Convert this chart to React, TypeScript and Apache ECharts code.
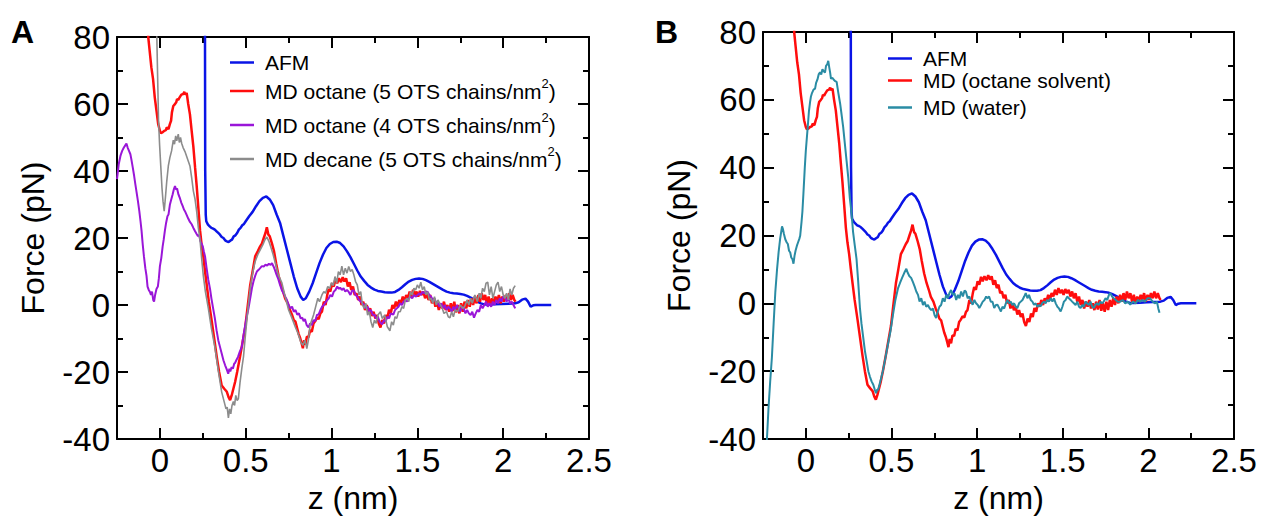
import React, { useEffect, useRef } from "react";
import * as echarts from "echarts";

// ---------- data (z in nm, force in pN) ----------
const afm: number[][] = [
  [0.262, 100], [0.264, 40], [0.267, 27], [0.27, 25], [0.28, 24], [0.29, 23.5], [0.3, 23], [0.31, 22.8], [0.32, 22.5],
  [0.33, 22], [0.34, 21.5], [0.35, 21], [0.36, 20.3], [0.37, 20], [0.38, 19.3], [0.39, 19], [0.4, 18.8], [0.41, 19.2],
  [0.42, 19.5], [0.43, 20.5], [0.44, 20.8], [0.45, 21.5], [0.46, 22.5], [0.47, 23], [0.48, 23.8], [0.49, 24.2], [0.5, 25],
  [0.52, 26.5], [0.54, 27.8], [0.56, 29.5], [0.58, 31], [0.6, 32], [0.62, 32.4], [0.64, 31.5], [0.66, 29.8], [0.68, 27],
  [0.7, 24.5], [0.72, 20.5], [0.74, 16.5], [0.76, 12.5], [0.78, 8.5], [0.8, 5], [0.82, 2.5], [0.835, 1.5], [0.85, 2],
  [0.87, 4], [0.89, 6.5], [0.91, 9.5], [0.93, 12.5], [0.95, 15], [0.97, 17], [0.99, 18.2], [1.01, 18.8], [1.03, 18.9],
  [1.05, 18.5], [1.07, 17.5], [1.09, 16], [1.11, 14.3], [1.13, 12.3], [1.15, 10.3], [1.17, 8.5], [1.19, 7.2], [1.21, 6],
  [1.23, 5.2], [1.25, 4.6], [1.27, 4.2], [1.29, 4], [1.31, 3.8], [1.33, 3.7], [1.35, 3.7], [1.37, 3.9], [1.39, 4.5],
  [1.41, 5.3], [1.43, 6.2], [1.45, 7], [1.47, 7.5], [1.49, 7.8], [1.51, 7.9], [1.53, 7.8], [1.55, 7.4], [1.57, 6.9],
  [1.59, 6.3], [1.61, 5.7], [1.63, 5.1], [1.65, 4.5], [1.67, 4], [1.69, 3.7], [1.71, 3.5], [1.73, 3.4], [1.75, 3.3],
  [1.77, 3.1], [1.79, 2.7], [1.81, 2.2], [1.83, 1.6], [1.85, 1], [1.87, 0.5], [1.89, 0.2], [1.91, 0.1], [1.95, 0.2],
  [1.99, 0.3], [2.03, 0.4], [2.07, 0.5], [2.09, 0.8], [2.11, 1.6], [2.13, 1.9], [2.145, 1], [2.16, -0.5], [2.175, -0.1],
  [2.19, 0], [2.28, 0],
];

const mdOctane5: number[][] = [
  [-0.075, 95], [-0.068, 80], [-0.06, 76], [-0.05, 71], [-0.04, 67.5], [-0.03, 62], [-0.02, 58], [-0.01, 54], [0.0, 52],
  [0.006, 51.3], [0.015, 51.5], [0.025, 52], [0.035, 52.2], [0.04, 53], [0.05, 52.5], [0.058, 54], [0.065, 55], [0.07, 57.5],
  [0.078, 59.4], [0.085, 59.8], [0.095, 60.5], [0.1, 61.5], [0.107, 61.2], [0.115, 62], [0.125, 62.8], [0.136, 63],
  [0.142, 63.6], [0.148, 62.8], [0.156, 63.3], [0.165, 60], [0.175, 56.9], [0.185, 52], [0.195, 47.2], [0.205, 41],
  [0.214, 35.7], [0.224, 29], [0.234, 22.2], [0.243, 18], [0.253, 14.5], [0.263, 10], [0.273, 5.9], [0.285, 1],
  [0.302, -4.8], [0.315, -9.5], [0.331, -15.4], [0.345, -20], [0.36, -24], [0.375, -25], [0.39, -25.9], [0.4, -27.5],
  [0.409, -28.4], [0.418, -27], [0.428, -25], [0.438, -23], [0.45, -20], [0.467, -15.4], [0.482, -11], [0.497, -6.7],
  [0.51, -1], [0.526, 5.9], [0.54, 10], [0.555, 14.5], [0.57, 16], [0.584, 17.5], [0.594, 18.3], [0.605, 20], [0.615, 21.5],
  [0.623, 23.2], [0.632, 21], [0.64, 20.5], [0.653, 18.3], [0.665, 16], [0.677, 12.5], [0.691, 8.8], [0.705, 6],
  [0.718, 4], [0.73, 1.9], [0.745, 0.5], [0.758, -1.5], [0.769, -2.8], [0.78, -4.5], [0.79, -5], [0.8, -7], [0.808, -8.6],
  [0.818, -10], [0.826, -11.5], [0.833, -12.9], [0.84, -10.5], [0.848, -11.8], [0.856, -9.5], [0.866, -9.6], [0.875, -7.5],
  [0.885, -8], [0.895, -5.5], [0.905, -4.8], [0.915, -3.8], [0.925, -4.2], [0.935, -2.5], [0.944, -2], [0.955, 1],
  [0.965, 0], [0.975, 3], [0.983, 4.8], [0.993, 4], [1.003, 6.5], [1.013, 5.5], [1.023, 7.8], [1.033, 6.5], [1.043, 8],
  [1.055, 6.8], [1.065, 8.3], [1.075, 7], [1.085, 8], [1.095, 5.5], [1.105, 6.8], [1.115, 4.5], [1.125, 5.5], [1.135, 3],
  [1.145, 3.5], [1.155, 1.5], [1.165, 2.5], [1.175, 0], [1.185, 1], [1.195, -1.5], [1.205, 0], [1.215, -2], [1.225, -1],
  [1.235, -3.3], [1.245, -2], [1.255, -4], [1.265, -3], [1.275, -5.5], [1.285, -6.7], [1.295, -4.5], [1.305, -5.5],
  [1.315, -3], [1.325, -4], [1.335, -1.4], [1.345, -2.5], [1.355, 0], [1.365, -1], [1.375, 1], [1.385, -0.5], [1.395, 1.5],
  [1.405, 0.5], [1.415, 2.5], [1.425, 1], [1.435, 3], [1.445, 2], [1.455, 4], [1.465, 2.5], [1.475, 4.5], [1.485, 3],
  [1.495, 4], [1.505, 2.5], [1.515, 4.2], [1.525, 3], [1.535, 4], [1.545, 2], [1.555, 3.5], [1.565, 1.5], [1.575, 3],
  [1.585, 0.5], [1.595, 2], [1.605, -0.5], [1.615, 1], [1.625, -1.5], [1.635, 0.5], [1.645, -1], [1.655, 1], [1.665, -1.5],
  [1.675, 0], [1.685, -2], [1.695, 0.5], [1.705, -1.8], [1.715, 1], [1.725, -2.2], [1.735, 0], [1.745, -2.5], [1.755, 0.5],
  [1.765, -2], [1.775, 1], [1.785, -1], [1.795, 1.5], [1.805, -0.5], [1.815, 2], [1.825, 0], [1.835, 2.5], [1.845, 0.5],
  [1.855, 3], [1.865, 1], [1.875, 3.5], [1.885, 1.5], [1.895, 3], [1.905, 0.5], [1.915, 2.5], [1.925, 0], [1.935, 2],
  [1.945, 0.5], [1.955, 2.5], [1.965, 1], [1.975, 3], [1.985, 0.5], [1.995, 2.5], [2.005, 1], [2.015, 3], [2.025, 1.5],
  [2.035, 3.5], [2.045, 1.5], [2.055, 3], [2.065, 1.5], [2.072, 1],
];

const mdOctane4: number[][] = [
  [-0.25, 37.6], [-0.24, 42], [-0.23, 44.5], [-0.22, 46], [-0.21, 47], [-0.2, 47.8], [-0.195, 48.2], [-0.188, 47],
  [-0.18, 46], [-0.172, 45], [-0.166, 43.4], [-0.158, 41], [-0.15, 38.5], [-0.143, 36], [-0.136, 33.7], [-0.128, 31],
  [-0.12, 28], [-0.113, 25], [-0.107, 22.2], [-0.1, 18], [-0.093, 14.5], [-0.085, 11], [-0.078, 8.7], [-0.072, 5.5],
  [-0.065, 4.5], [-0.058, 3.9], [-0.052, 3], [-0.046, 4], [-0.039, 1.5], [-0.034, 1], [-0.028, 3], [-0.02, 4.8],
  [-0.012, 5.5], [-0.006, 8], [0.0, 11.6], [0.008, 14], [0.016, 17.5], [0.022, 19.5], [0.029, 22.2], [0.036, 24.5],
  [0.044, 26.5], [0.05, 27], [0.058, 29.9], [0.066, 31.5], [0.074, 33], [0.081, 34.5], [0.088, 35.5], [0.094, 34.5],
  [0.1, 34.8], [0.108, 33], [0.117, 31.8], [0.125, 30.5], [0.133, 29.5], [0.14, 28.5], [0.146, 28], [0.155, 27],
  [0.165, 25.8], [0.175, 24.8], [0.185, 24.1], [0.195, 23], [0.205, 22], [0.214, 21.2], [0.222, 20.5], [0.228, 21],
  [0.236, 19], [0.243, 18.3], [0.25, 17.5], [0.256, 16], [0.263, 14.5], [0.272, 11], [0.282, 7.5], [0.292, 4.8], [0.3, 2],
  [0.31, -1], [0.32, -3.9], [0.33, -7.5], [0.34, -10.5], [0.35, -12.5], [0.36, -14.5], [0.37, -16.5], [0.38, -18],
  [0.39, -19.3], [0.398, -20.5], [0.405, -19], [0.41, -19.8], [0.418, -18.5], [0.425, -19], [0.433, -17.5], [0.438, -17.3],
  [0.445, -16.5], [0.455, -15.5], [0.465, -14], [0.477, -12.5], [0.487, -9], [0.497, -6], [0.506, -3.5], [0.516, -1],
  [0.526, 2], [0.536, 5], [0.545, 7], [0.555, 8.7], [0.565, 10], [0.575, 10.5], [0.584, 11], [0.594, 11.6], [0.605, 11.5],
  [0.615, 12], [0.625, 11.8], [0.635, 12.3], [0.645, 12], [0.653, 12.5], [0.662, 11.5], [0.67, 10.5], [0.68, 9],
  [0.69, 7.7], [0.7, 6], [0.71, 4.5], [0.72, 3.5], [0.73, 2.5], [0.74, 1.5], [0.75, 0], [0.76, -1], [0.77, -0.5],
  [0.78, -2], [0.79, -1.5], [0.8, -2.9], [0.81, -2.5], [0.82, -4], [0.83, -3.8], [0.837, -4.8], [0.845, -4.2], [0.855, -6],
  [0.866, -6.7], [0.875, -5.5], [0.885, -6], [0.895, -4.5], [0.905, -4.8], [0.915, -3], [0.925, -2.8], [0.935, -1.5],
  [0.945, -0.5], [0.955, 0], [0.965, 0.8], [0.975, 1.5], [0.983, 1.9], [0.993, 3], [1.003, 2.5], [1.013, 4], [1.023, 4.5],
  [1.033, 5.5], [1.043, 4.8], [1.05, 5.2], [1.06, 4.5], [1.07, 5], [1.08, 4], [1.09, 4.5], [1.1, 3.9], [1.11, 3],
  [1.12, 4.3], [1.13, 4.3], [1.14, 3], [1.15, 2.5], [1.16, 1.5], [1.17, 1], [1.18, 0.5], [1.19, 0], [1.2, -1], [1.21, -0.5],
  [1.22, -2], [1.23, -1.5], [1.24, -3], [1.25, -2.9], [1.26, -4], [1.27, -3.5], [1.28, -5], [1.295, -5.8], [1.305, -4.5],
  [1.315, -5], [1.325, -3.5], [1.335, -4], [1.345, -2.5], [1.36, -2.9], [1.37, -1.5], [1.38, -1], [1.39, -0.5], [1.4, 0.5],
  [1.41, 0], [1.42, 1], [1.43, 1.5], [1.44, 1], [1.45, 2], [1.46, 2.5], [1.47, 2], [1.48, 3], [1.49, 2.5], [1.5, 2.9],
  [1.51, 3.5], [1.52, 3], [1.53, 4], [1.54, 3.5], [1.55, 4], [1.56, 3.9], [1.57, 3], [1.58, 2.5], [1.59, 1.5], [1.6, 2],
  [1.61, 0.5], [1.62, 0.5], [1.63, -0.5], [1.64, 0.5], [1.65, -1], [1.66, 0], [1.67, -1.5], [1.68, -0.5], [1.69, -1],
  [1.7, -2], [1.71, -0.5], [1.72, -1.5], [1.73, 0], [1.74, -1], [1.75, -2], [1.76, -0.5], [1.77, -1], [1.78, -2.5],
  [1.79, -1.5], [1.8, -2.5], [1.81, -3], [1.82, -2], [1.83, -3.8], [1.84, -2.5], [1.85, -1.5], [1.86, -2], [1.87, 0],
  [1.88, -1], [1.89, 0], [1.9, 1], [1.91, -0.5], [1.92, 0.5], [1.93, -0.5], [1.94, 1], [1.95, 0], [1.96, 1.5], [1.97, 0.5],
  [1.98, 2], [1.99, 1], [2.0, 2.5], [2.01, 2.4], [2.02, 1], [2.03, 2], [2.04, 0.5], [2.05, 1], [2.06, 0], [2.07, -1],
];

const mdDecane: number[][] = [
  [-0.022, 95], [-0.018, 80], [-0.012, 65], [-0.008, 55], [-0.002, 48], [0.005, 41.5], [0.012, 35], [0.018, 31],
  [0.025, 28], [0.032, 32], [0.04, 37], [0.049, 41.5], [0.058, 44], [0.068, 46], [0.078, 49.2], [0.085, 48], [0.092, 50.5],
  [0.098, 49], [0.107, 51], [0.113, 48.5], [0.12, 50], [0.127, 48.2], [0.135, 47], [0.146, 45.8], [0.155, 44.5],
  [0.165, 43], [0.175, 41.5], [0.185, 38], [0.195, 34], [0.204, 31.8], [0.214, 28], [0.224, 23], [0.234, 19.3],
  [0.243, 14], [0.253, 8.7], [0.265, 4], [0.282, -0.9], [0.3, -7], [0.32, -12.5], [0.34, -19.5], [0.36, -26],
  [0.375, -29], [0.385, -31], [0.392, -30.5], [0.399, -33.7], [0.406, -31], [0.413, -32.5], [0.42, -30], [0.428, -28.8],
  [0.435, -30], [0.442, -27], [0.45, -28.5], [0.457, -28], [0.467, -23], [0.477, -19], [0.487, -15.4], [0.5, -8],
  [0.515, 0], [0.526, 5], [0.54, 9.5], [0.555, 13], [0.57, 15], [0.585, 16.5], [0.6, 18], [0.612, 19.5], [0.623, 20.3],
  [0.635, 19], [0.645, 17.5], [0.66, 15], [0.675, 12], [0.69, 9], [0.71, 6.7], [0.73, 2.5], [0.75, -1.5], [0.77, -4],
  [0.79, -6.7], [0.805, -8.5], [0.82, -11], [0.833, -12], [0.845, -10.5], [0.856, -13], [0.865, -10.5], [0.875, -6],
  [0.885, -4.5], [0.895, -3], [0.905, -1], [0.92, 2], [0.93, 1], [0.944, 3], [0.955, 4], [0.965, 3.5], [0.978, 5.5],
  [0.99, 5], [1.0, 6.7], [1.01, 5.8], [1.02, 8.5], [1.03, 6.5], [1.04, 10], [1.05, 9], [1.06, 11.6], [1.07, 9], [1.08, 11],
  [1.09, 9.5], [1.1, 11.5], [1.11, 10], [1.12, 10.6], [1.13, 9], [1.14, 7], [1.15, 6], [1.16, 3], [1.17, 4], [1.18, 0],
  [1.19, -1], [1.2, 0.5], [1.21, -3], [1.22, -2], [1.23, -5], [1.24, -6.7], [1.25, -4.5], [1.26, -5.5], [1.27, -3],
  [1.285, -2], [1.295, -4], [1.31, -3], [1.325, -6.5], [1.34, -7.7], [1.35, -5], [1.36, -6], [1.37, -3.5], [1.38, -4],
  [1.39, -2], [1.4, -2], [1.41, -0.5], [1.42, -1], [1.43, 1.5], [1.44, 2], [1.45, 1], [1.46, 3.9], [1.47, 3], [1.48, 5],
  [1.49, 4.5], [1.5, 6], [1.51, 5], [1.52, 6.8], [1.53, 4.5], [1.54, 5.5], [1.55, 3], [1.56, 4], [1.57, 1.5], [1.58, 2],
  [1.59, 0.5], [1.6, 2.5], [1.61, 0], [1.62, 1.5], [1.635, 0], [1.645, -1], [1.655, -2.5], [1.67, -2], [1.68, -3.5],
  [1.69, -3.8], [1.7, -2], [1.71, -3.5], [1.72, -1.5], [1.735, -2], [1.75, 0], [1.765, -1], [1.775, -0.5], [1.79, 1.5],
  [1.8, 0], [1.81, 2], [1.82, 0.5], [1.835, 3], [1.85, 1], [1.86, 3.5], [1.87, 2], [1.88, 5], [1.89, 4], [1.9, 6.5],
  [1.91, 6.8], [1.92, 3], [1.93, 5.5], [1.94, 2], [1.95, 4], [1.96, 6], [1.97, 6.8], [1.98, 4], [1.99, 5.5], [2.0, 3],
  [2.01, 2], [2.02, 3.5], [2.03, 1.5], [2.04, 4.8], [2.05, 3], [2.06, 5], [2.07, 5.8],
];

const mdWater: number[][] = [
  [-0.232, -45], [-0.227, -40], [-0.218, -31], [-0.208, -23], [-0.198, -15.9], [-0.188, -6], [-0.178, 3.4], [-0.168, 10],
  [-0.159, 15], [-0.15, 19], [-0.144, 21], [-0.139, 22.7], [-0.134, 22], [-0.128, 20.5], [-0.12, 18.9], [-0.112, 18],
  [-0.105, 17.5], [-0.098, 15.5], [-0.091, 15], [-0.085, 13.5], [-0.078, 13], [-0.072, 11.7], [-0.066, 14], [-0.06, 15.5],
  [-0.052, 17], [-0.045, 18], [-0.038, 19], [-0.033, 19.9], [-0.025, 24], [-0.02, 27], [-0.014, 32.4], [-0.006, 40],
  [0.0, 45], [0.006, 48.8], [0.012, 52.5], [0.018, 56.5], [0.025, 59.4], [0.03, 61], [0.036, 62], [0.045, 63], [0.054, 63.3],
  [0.06, 65], [0.068, 66], [0.075, 67.5], [0.083, 68.1], [0.09, 67.5], [0.097, 69], [0.104, 68.5], [0.112, 68], [0.118, 70],
  [0.125, 70.5], [0.131, 71.5], [0.137, 69.5], [0.142, 68], [0.147, 66.2], [0.155, 66.5], [0.162, 66], [0.172, 65.5],
  [0.18, 65.3], [0.19, 62], [0.2, 59], [0.209, 55.6], [0.218, 52], [0.228, 47], [0.238, 42], [0.248, 37], [0.257, 31],
  [0.267, 26.6], [0.276, 21], [0.286, 17], [0.296, 13.1], [0.305, 7], [0.316, -1.4], [0.325, -6], [0.335, -10],
  [0.345, -14], [0.355, -17], [0.365, -20], [0.374, -21.6], [0.384, -23], [0.394, -24], [0.403, -25.5], [0.41, -26.5],
  [0.416, -25.5], [0.422, -25.5], [0.43, -24], [0.44, -22], [0.451, -19.7], [0.465, -16], [0.48, -12], [0.495, -8],
  [0.509, -3.3], [0.523, 1], [0.538, 4.4], [0.55, 6], [0.562, 7.5], [0.575, 9], [0.587, 10.2], [0.595, 9], [0.605, 8],
  [0.615, 7.5], [0.625, 6.3], [0.635, 5], [0.645, 3.5], [0.655, 2.5], [0.664, 0.5], [0.674, 1.5], [0.684, -0.5],
  [0.693, 0.5], [0.703, -1], [0.713, -0.5], [0.722, -1.4], [0.732, -2], [0.742, -1.5], [0.752, -3.5], [0.761, -4.3],
  [0.77, -2.5], [0.78, -1], [0.79, -0.5], [0.8, 1.5], [0.81, 0.5], [0.82, 2.5], [0.83, 1.5], [0.838, 3], [0.848, 3.9],
  [0.858, 2.5], [0.868, 3], [0.878, 1], [0.888, 2.5], [0.897, 1.5], [0.907, 3.5], [0.917, 2], [0.927, 3.8], [0.935, 3.4],
  [0.945, 1.5], [0.955, 2], [0.965, 0.5], [0.974, -0.4], [0.984, 1], [0.994, 0], [1.004, -0.5], [1.013, -1.4],
  [1.023, -0.5], [1.033, 0.5], [1.043, 1], [1.053, 2], [1.06, 1.5], [1.07, 2], [1.08, 0.5], [1.09, 0.5], [1.1, -1.4],
  [1.11, -0.5], [1.119, -0.4], [1.13, -1.5], [1.139, -2.4], [1.148, -1], [1.158, -1.5], [1.168, 0], [1.177, 1], [1.187, 0],
  [1.197, 0.5], [1.206, -0.5], [1.216, 0], [1.226, -1], [1.235, -1.4], [1.245, 0], [1.255, 0.5], [1.265, 1], [1.275, 2],
  [1.284, 3], [1.294, 1.5], [1.303, 2.5], [1.313, 1], [1.323, 0.5], [1.332, -0.4], [1.342, 0], [1.352, -1], [1.362, -0.5],
  [1.371, -0.9], [1.38, 0], [1.39, 0.5], [1.4, 0], [1.41, 1], [1.42, 0.5], [1.43, 1.5], [1.44, 0.5], [1.449, 1.5],
  [1.459, 0], [1.469, -1], [1.478, -1.5], [1.488, -2.4], [1.498, -1], [1.507, 0.5], [1.517, 1], [1.526, 2], [1.536, 1.5],
  [1.546, 1], [1.555, 0.5], [1.565, 0], [1.575, -0.5], [1.585, 0.5], [1.595, -1], [1.604, -1.4], [1.614, -0.5],
  [1.623, -1], [1.633, 0.5], [1.642, 0], [1.652, -0.5], [1.662, 0.5], [1.672, -1], [1.681, -1.4], [1.69, -0.5], [1.7, 0],
  [1.71, -0.5], [1.72, 0.5], [1.73, 0], [1.739, 0.5], [1.75, 1.5], [1.76, 1], [1.77, 2.5], [1.778, 3], [1.788, 2],
  [1.798, 1.5], [1.81, 1], [1.82, 0.5], [1.836, 0.5], [1.85, 1], [1.865, 0], [1.88, 0.5], [1.894, -0.4], [1.91, 0.5],
  [1.925, 0], [1.94, 1], [1.952, 0.5], [1.965, 1], [1.98, 0.5], [1.995, 1.5], [2.01, 1.5], [2.025, 0.5], [2.04, 0],
  [2.05, 0.5], [2.058, -1.5], [2.065, -2.8],
];

// ---------- axes / labels ----------
const xMajor = [0, 0.5, 1, 1.5, 2];
const xLabels = [0, 0.5, 1, 1.5, 2, 2.5];
const xMinor = [0.25, 0.75, 1.25, 1.75, 2.25];
const yMinor = [-30, -10, 10, 30, 50, 70];
const xName = "z (nm)";
const yName = "Force (pN)";
const panelLetters = ["A", "B"];

const namesA = [
  "AFM",
  "MD octane (5 OTS chains/nm²)",
  "MD octane (4 OTS chains/nm²)",
  "MD decane (5 OTS chains/nm²)",
];
const namesB = ["AFM", "MD (octane solvent)", "MD (water)"];

const FONT = "'Liberation Sans', Arial, Helvetica, sans-serif";
const BLUE = "#0a14e6";
const RED = "#ff0d0d";
const PURPLE = "#9a16d8";
const GRAY = "#8c8c8c";
const TEAL = "#2a8ca4";
const TICK_FONT = 33;

const grids = [
  { left: 117, top: 37, width: 472, height: 414 },
  { left: 763, top: 32, width: 471, height: 415 },
];

function axesFor(g: number) {
  const line = { show: true, onZero: false, lineStyle: { color: "#000", width: 2 } };
  const noLine = { show: false, onZero: false };
  const base = { type: "value", gridIndex: g, splitLine: { show: false } };
  const xs = [
    {
      ...base, position: "bottom", min: -0.25, max: 2.5, axisLine: line,
      axisTick: { show: true, inside: true, length: 11, customValues: xMajor, lineStyle: { color: "#000", width: 2 } },
      axisLabel: { show: true, customValues: xLabels, fontSize: TICK_FONT, color: "#000", fontFamily: FONT, margin: 5, formatter: (v: number) => String(v) },
      name: xName, nameLocation: "middle", nameGap: 43,
      nameTextStyle: { fontSize: 32, color: "#000", fontFamily: FONT },
    },
    {
      ...base, position: "bottom", min: -0.25, max: 2.5, axisLine: noLine,
      axisTick: { show: true, inside: true, length: 6, customValues: xMinor, lineStyle: { color: "#000", width: 2 } },
      axisLabel: { show: false },
    },
    {
      ...base, position: "top", min: -0.25, max: 2.5, axisLine: line,
      axisTick: { show: true, inside: true, length: 11, customValues: xMajor, lineStyle: { color: "#000", width: 2 } },
      axisLabel: { show: false },
    },
    {
      ...base, position: "top", min: -0.25, max: 2.5, axisLine: noLine,
      axisTick: { show: true, inside: true, length: 6, customValues: xMinor, lineStyle: { color: "#000", width: 2 } },
      axisLabel: { show: false },
    },
  ];
  const ys = [
    {
      ...base, position: "left", min: -40, max: 80, interval: 20, axisLine: line,
      axisTick: { show: true, inside: true, length: 11, lineStyle: { color: "#000", width: 2 } },
      axisLabel: { show: true, fontSize: TICK_FONT, color: "#000", fontFamily: FONT, margin: 7 },
      name: yName, nameLocation: "middle", nameGap: 68, nameRotate: 90,
      nameTextStyle: { fontSize: 32, color: "#000", fontFamily: FONT },
    },
    {
      ...base, position: "left", min: -40, max: 80, axisLine: noLine,
      axisTick: { show: true, inside: true, length: 6, customValues: yMinor, lineStyle: { color: "#000", width: 2 } },
      axisLabel: { show: false },
    },
    {
      ...base, position: "right", min: -40, max: 80, interval: 20, axisLine: line,
      axisTick: { show: true, inside: true, length: 11, lineStyle: { color: "#000", width: 2 } },
      axisLabel: { show: false },
    },
    {
      ...base, position: "right", min: -40, max: 80, axisLine: noLine,
      axisTick: { show: true, inside: true, length: 6, customValues: yMinor, lineStyle: { color: "#000", width: 2 } },
      axisLabel: { show: false },
    },
  ];
  return { xs, ys };
}

function lineSeries(name: string, data: number[][], color: string, width: number, g: number) {
  return {
    type: "line", name, data, color,
    xAxisIndex: g * 4, yAxisIndex: g * 4,
    showSymbol: false, symbol: "none", clip: true,
    lineStyle: { color, width },
    emphasis: { disabled: true },
  };
}

const legendRich = {
  a: { fontSize: 21, lineHeight: 28, color: "#000", fontFamily: FONT },
  s: { fontSize: 13, lineHeight: 13, verticalAlign: "top", color: "#000", fontFamily: FONT },
};

function legendItem(name: string, left: number, top: number) {
  return {
    data: [name], left, top, orient: "vertical", padding: 0, itemGap: 0,
    icon: "rect", itemWidth: 24, itemHeight: 2.5, selectedMode: false,
    textStyle: { fontSize: 21, color: "#000", fontFamily: FONT, rich: legendRich, padding: [0, 0, 0, 6] },
    formatter: (n: string) =>
      n.indexOf("²") >= 0 ? `{a|${n.replace("²)", "")}}{s|2}{a|)}` : `{a|${n}}`,
  };
}

export default function App() {
  const ref = useRef<HTMLDivElement>(null);
  useEffect(() => {
    if (!ref.current) return;
    const chart = echarts.init(ref.current, undefined, { renderer: "svg" });
    const a = axesFor(0);
    const b = axesFor(1);
    chart.setOption({
      animation: false,
      backgroundColor: "#fff",
      textStyle: { fontFamily: FONT },
      grid: grids,
      xAxis: [...a.xs, ...b.xs],
      yAxis: [...a.ys, ...b.ys],
      title: [
        { text: panelLetters[0], left: 11, top: 16, padding: 0, textStyle: { fontSize: 32, fontWeight: "bold", color: "#000", fontFamily: FONT } },
        { text: panelLetters[1], left: 655, top: 16, padding: 0, textStyle: { fontSize: 32, fontWeight: "bold", color: "#000", fontFamily: FONT } },
      ],
      legend: [
        legendItem(namesA[0], 230, 52),
        legendItem(namesA[1], 230, 77),
        legendItem(namesA[2], 230, 111),
        legendItem(namesA[3], 230, 145),
        legendItem(namesB[1], 888, 70),
        legendItem(namesB[2], 888, 97),
        { ...legendItem(namesB[0], 888, 48), data: ["AFM"] },
      ],
      series: [
        lineSeries(namesA[0], afm, BLUE, 2.5, 0),
        lineSeries(namesA[1], mdOctane5, RED, 2.5, 0),
        lineSeries(namesA[2], mdOctane4, PURPLE, 2, 0),
        lineSeries(namesA[3], mdDecane, GRAY, 1.6, 0),
        lineSeries(namesB[0], afm, BLUE, 2.5, 1),
        lineSeries(namesB[1], mdOctane5, RED, 2.5, 1),
        lineSeries(namesB[2], mdWater, TEAL, 2, 1),
      ],
    });
    return () => chart.dispose();
  }, []);
  return <div ref={ref} style={{ position: "absolute", left: 0, top: 0, width: 1262, height: 519 }} />;
}
